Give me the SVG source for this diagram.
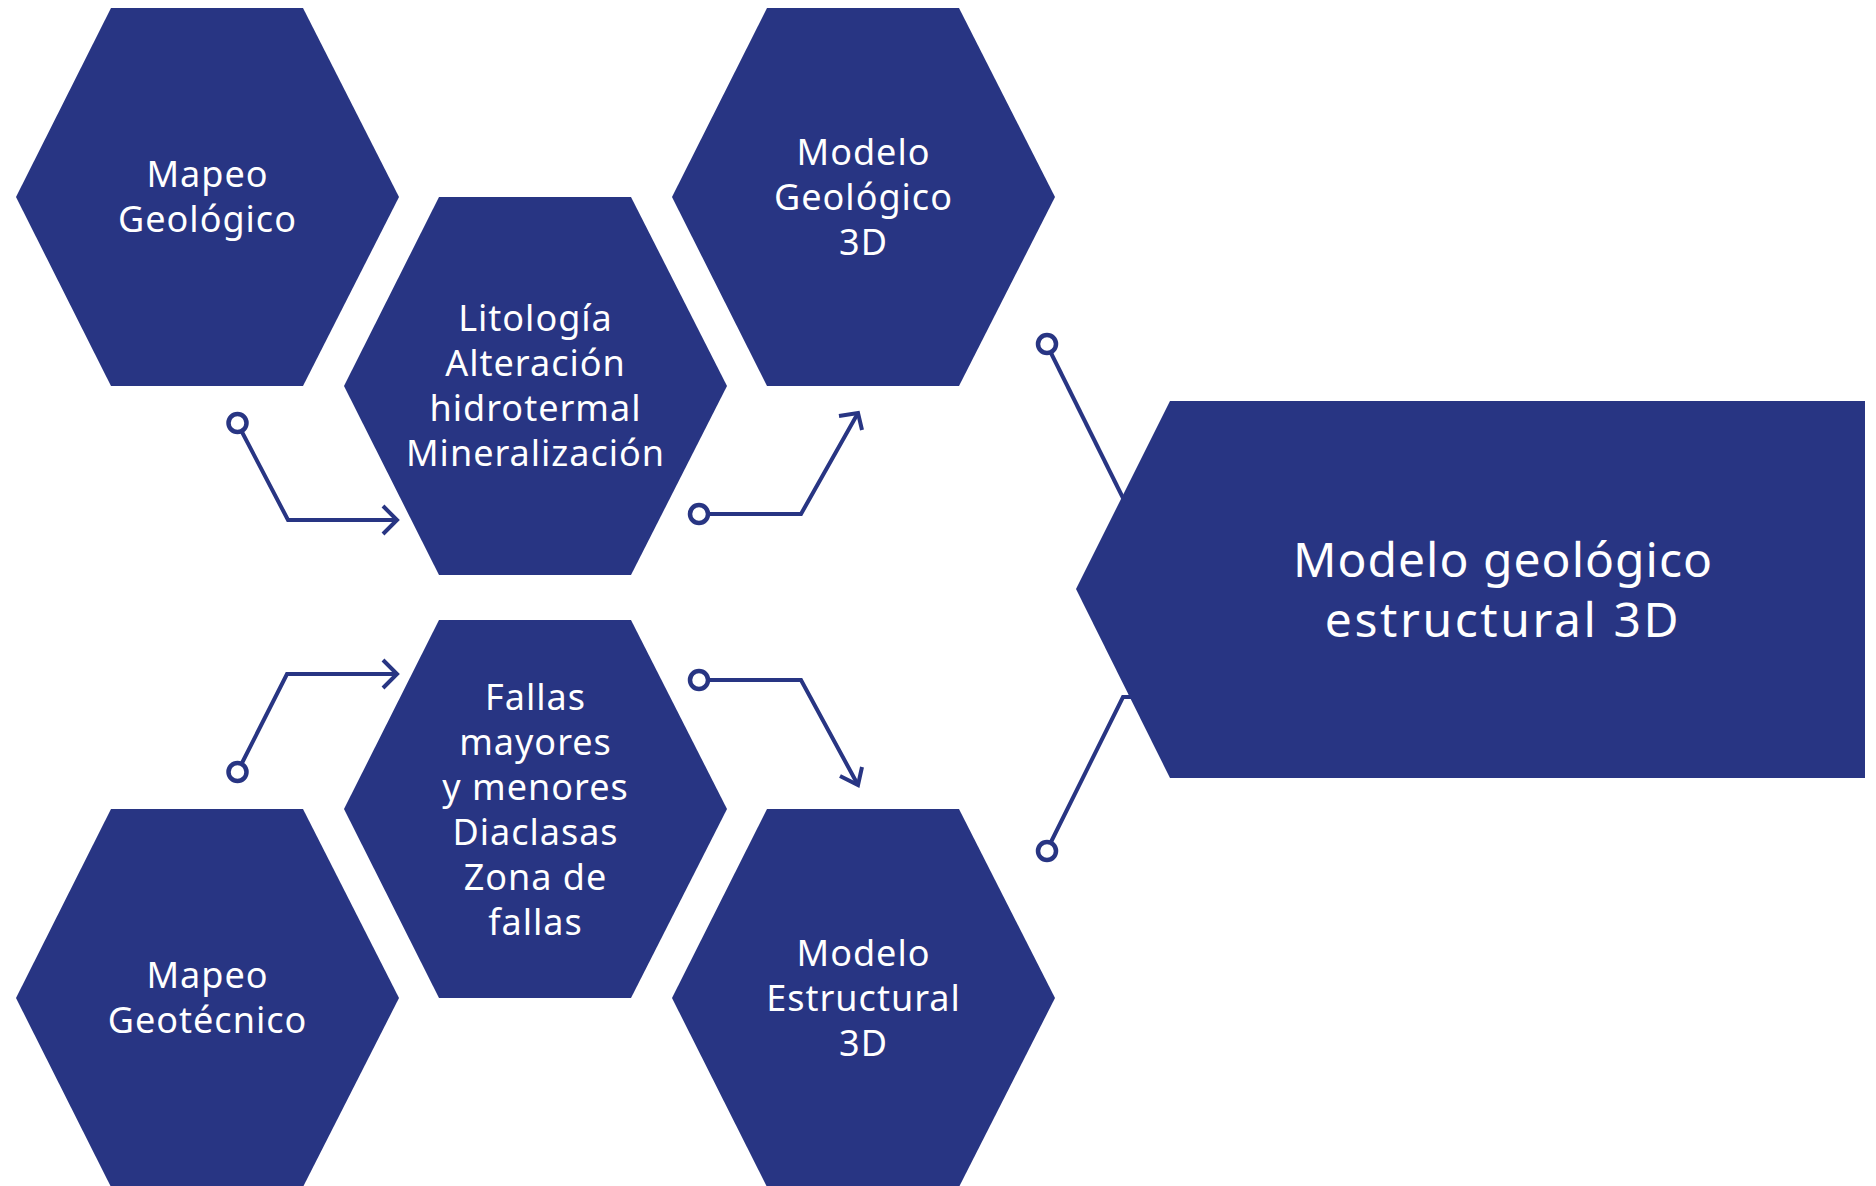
<svg xmlns="http://www.w3.org/2000/svg" width="1876" height="1186" viewBox="0 0 1876 1186">
<defs>
<style>
.hex{fill:#283583;}
.t{fill:#ffffff;font-family:"Noto Sans","Liberation Sans",sans-serif;font-size:36px;letter-spacing:1px;text-anchor:middle;}
.big{font-size:48px;letter-spacing:1px;}
.c{fill:none;stroke:#283583;stroke-width:4;stroke-linejoin:miter;}
.dot{fill:#ffffff;stroke:#283583;stroke-width:4.5;}
</style>
<polygon id="hexshape" points="95,0 287,0 383,189 287,378 95,378 0,189"/>
</defs>
<rect width="1876" height="1186" fill="#ffffff"/>
<g id="mapeo-geologico">
<use href="#hexshape" class="hex" x="16" y="8"/>
<text class="t" x="207.5" y="187">Mapeo</text>
<text class="t" x="207.5" y="232">Geológico</text>
</g>
<g id="litologia">
<use href="#hexshape" class="hex" x="344" y="197"/>
<text class="t" x="535.5" y="331">Litología</text>
<text class="t" x="535.5" y="376">Alteración</text>
<text class="t" x="535.5" y="421">hidrotermal</text>
<text class="t" x="535.5" y="466">Mineralización</text>
</g>
<g id="modelo-geologico-3d">
<use href="#hexshape" class="hex" x="672" y="8"/>
<text class="t" x="863.5" y="165">Modelo</text>
<text class="t" x="863.5" y="210">Geológico</text>
<text class="t" x="863.5" y="255">3D</text>
</g>
<g id="mapeo-geotecnico">
<use href="#hexshape" class="hex" x="16" y="809"/>
<text class="t" x="207.5" y="988">Mapeo</text>
<text class="t" x="207.5" y="1033">Geotécnico</text>
</g>
<g id="fallas">
<use href="#hexshape" class="hex" x="344" y="620"/>
<text class="t" x="535.5" y="710">Fallas</text>
<text class="t" x="535.5" y="755">mayores</text>
<text class="t" x="535.5" y="800">y menores</text>
<text class="t" x="535.5" y="845">Diaclasas</text>
<text class="t" x="535.5" y="890">Zona de</text>
<text class="t" x="535.5" y="935">fallas</text>
</g>
<g id="modelo-estructural-3d">
<use href="#hexshape" class="hex" x="672" y="809"/>
<text class="t" x="863.5" y="966">Modelo</text>
<text class="t" x="863.5" y="1011">Estructural</text>
<text class="t" x="863.5" y="1056">3D</text>
</g>
<g id="modelo-geologico-estructural-3d">
<polygon class="hex" points="1170,401 1865,401 1865,778 1170,778 1076,589"/>
<text class="t big" x="1503" y="577">Modelo geológico</text>
<text class="t big" x="1503" y="637" style="letter-spacing:2.6px">estructural 3D</text>
</g>
<g id="connectors">
<path class="c" d="M242,432 L288,520 L397,520"/>
<path class="c" d="M383,506 L397,520 L383,534"/>
<path class="c" d="M709,514 L801,514 L858,413"/>
<path class="c" d="M839,416 L858,413 L862,430"/>
<path class="c" d="M242,763 L287,674 L397,674"/>
<path class="c" d="M383,660 L397,674 L383,688"/>
<path class="c" d="M709,680 L801,680 L858,785"/>
<path class="c" d="M840,776 L858,785 L862,767"/>
<path class="c" d="M1051,353 L1125,502"/>
<path class="c" d="M1051,842 L1123,697 L1131,697"/>
<circle class="dot" cx="237.5" cy="423" r="9"/>
<circle class="dot" cx="699" cy="514" r="9"/>
<circle class="dot" cx="237.5" cy="772" r="9"/>
<circle class="dot" cx="699" cy="680" r="9"/>
<circle class="dot" cx="1047" cy="344" r="9"/>
<circle class="dot" cx="1047" cy="851" r="9"/>
</g>
</svg>
